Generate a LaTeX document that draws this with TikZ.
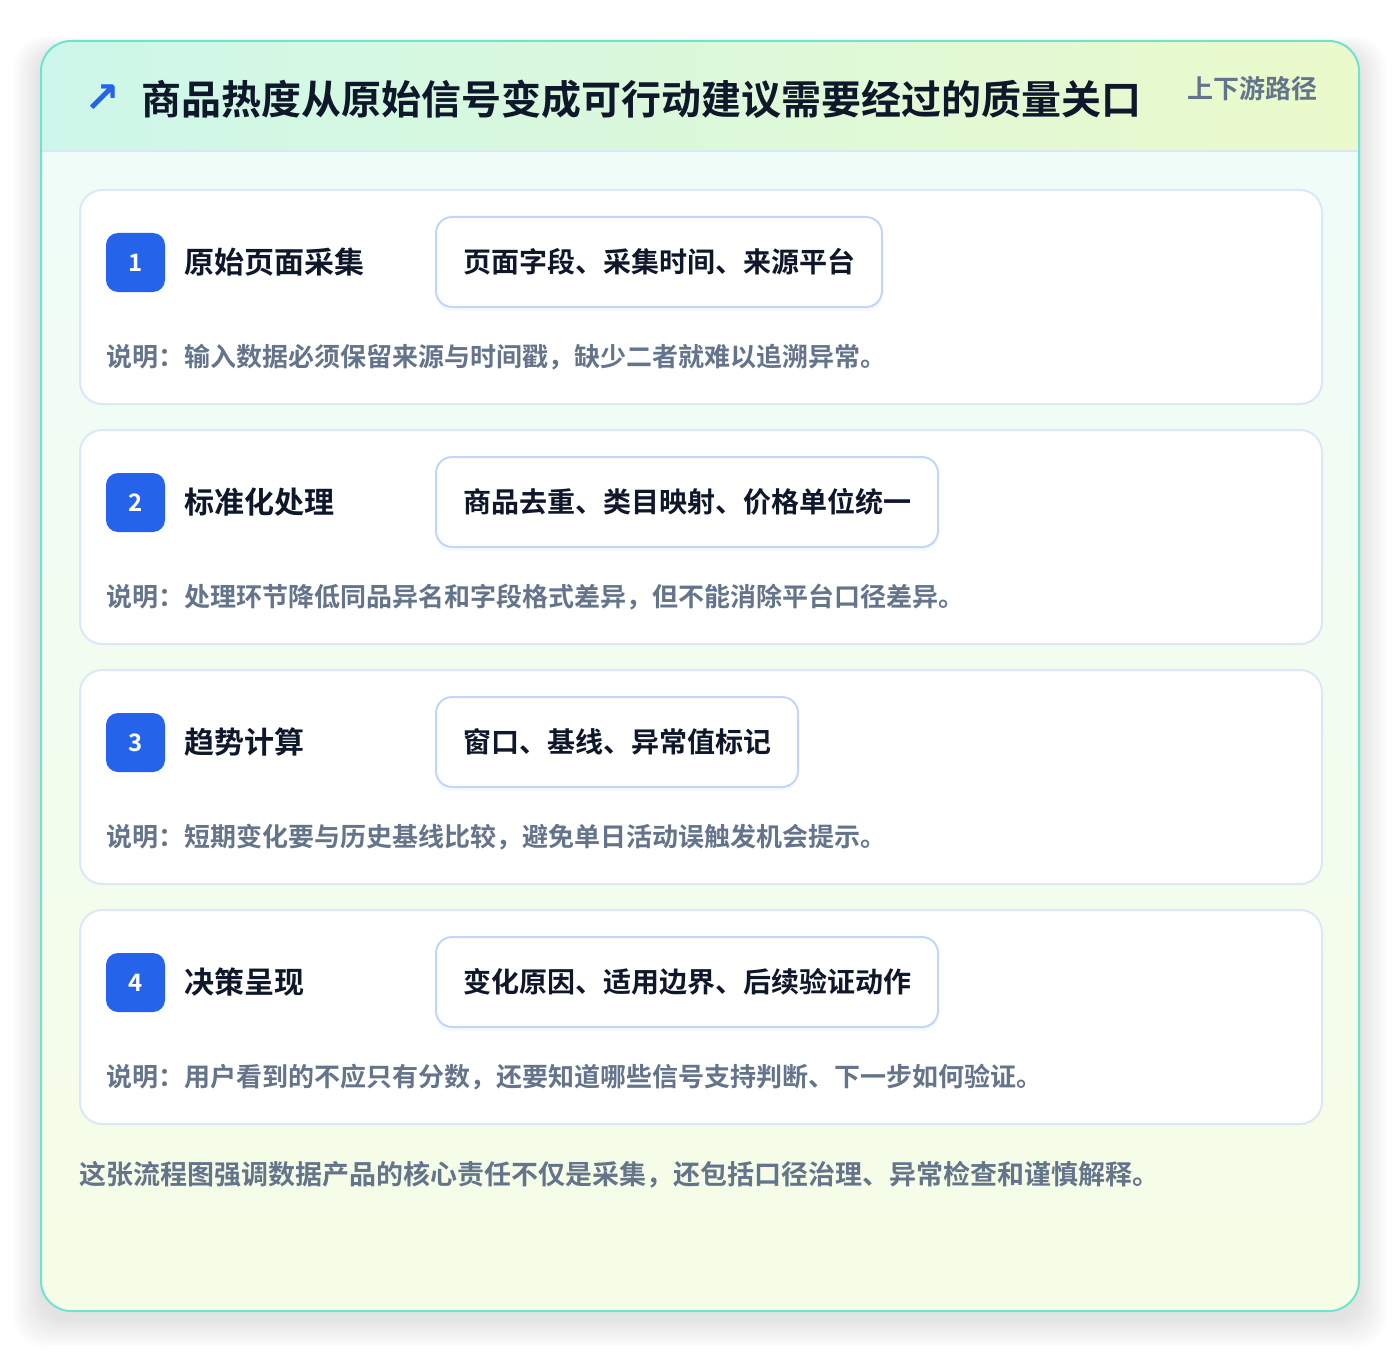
\documentclass[tikz,border=0pt]{standalone}
\usepackage{fontspec}
\setmainfont{Noto Sans CJK SC}[BoldFont={Noto Sans CJK SC Bold}]
\newfontfamily\symbolfont{DejaVu Sans}
\usetikzlibrary{positioning,shadows}

\definecolor{TitleInk}{HTML}{0F172A}
\definecolor{NoteInk}{HTML}{64748B}
\definecolor{BadgeBlue}{HTML}{2563EB}
\definecolor{FrameTeal}{HTML}{6EE3CF}
\definecolor{HeadLeft}{HTML}{CDF7EA}
\definecolor{HeadRight}{HTML}{EBFACB}
\definecolor{HeadLine}{HTML}{D8E8F4}
\definecolor{BodyTop}{HTML}{EFFCF8}
\definecolor{BodyBottom}{HTML}{F6FDE6}
\definecolor{CardLine}{HTML}{DCE8F8}
\definecolor{PillLine}{HTML}{BFD8F8}

\begin{document}
\begin{tikzpicture}[x=0.75pt,y=-0.75pt]
\tikzstyle{frame} = [rounded corners=22.5pt, draw=FrameTeal, line width=1.5pt]
\tikzstyle{card} = [rounded corners=16.5pt, draw=CardLine, line width=1.5pt, fill=white, inner sep=0pt, minimum width=931.5pt, minimum height=160.5pt]
\tikzstyle{badge} = [rounded corners=9pt, fill=BadgeBlue, text=white, inner sep=0pt, minimum size=44.25pt, font=\bfseries\fontsize{18}{18}\selectfont]
\tikzstyle{steptitle} = [inner sep=0pt, text=TitleInk, font=\bfseries\fontsize{22.5}{22.5}\selectfont]
\tikzstyle{pill} = [rounded corners=12pt, draw=PillLine, line width=1.5pt, fill=white, inner xsep=20.25pt, inner ysep=0pt, minimum height=67.5pt, text=TitleInk, font=\bfseries\fontsize{21}{21}\selectfont, drop shadow={opacity=0.05, shadow xshift=0pt, shadow yshift=-3pt}]
\tikzstyle{note} = [inner sep=0pt, text=NoteInk, font=\bfseries\fontsize{19.5}{19.5}\selectfont]

\useasboundingbox (0,0) rectangle (1400,1352);

% soft shadow under the panel
\foreach \k in {1,...,14}
  \fill[black, opacity=0.008, rounded corners=22.5pt] (41-2*\k,41-\k+10) rectangle (1359+2*\k,1311+2*\k+8);

% panel: header band and body
\begin{scope}
\clip[rounded corners=22.5pt] (41,41) rectangle (1359,1311);
\shade[top color=BodyTop, bottom color=BodyBottom] (41,151) rectangle (1359,1311);
\shade[left color=HeadLeft, right color=HeadRight] (41,41) rectangle (1359,151);
\draw[HeadLine, line width=1.5pt] (41,151) -- (1359,151);
\end{scope}
\draw[frame] (41,41) rectangle (1359,1311);

\node (icon) at (102,99) [inner sep=0pt, text=BadgeBlue, font=\symbolfont\bfseries\fontsize{32}{32}\selectfont] {↗};
\node (title) [anchor=west, inner sep=0pt, text=TitleInk, font=\bfseries\fontsize{30}{30}\selectfont] at (141,99) {商品热度从原始信号变成可行动建议需要经过的质量关口};
\node (route) [anchor=east, inner sep=0pt, text=NoteInk, font=\bfseries\fontsize{19.5}{19.5}\selectfont] at (1318,89) {上下游路径};

% the four gates
\foreach \n/\name/\fields/\why in {
  1/原始页面采集/页面字段、采集时间、来源平台/说明：输入数据必须保留来源与时间戳，缺少二者就难以追溯异常。,
  2/标准化处理/商品去重、类目映射、价格单位统一/说明：处理环节降低同品异名和字段格式差异，但不能消除平台口径差异。,
  3/趋势计算/窗口、基线、异常值标记/说明：短期变化要与历史基线比较，避免单日活动误触发机会提示。,
  4/决策呈现/变化原因、适用边界、后续验证动作/说明：用户看到的不应只有分数，还要知道哪些信号支持判断、下一步如何验证。}
{
  \pgfmathsetmacro\y{189+(\n-1)*240}
  \node (card\n) [card, anchor=north west] at (79,\y) {};
  \node (badge\n) [badge] at (135.5,\y+73.5) {\n};
  \node (step\n) [steptitle, right=14pt of badge\n] {\name};
  \node (pill\n) [pill, anchor=west] at (435,\y+73) {\fields};
  \node (note\n) [note, anchor=west] at (106,\y+168) {\why};
}

\node (summary) [note, anchor=west, font=\bfseries\fontsize{20.25}{20.25}\selectfont] at (79,1175) {这张流程图强调数据产品的核心责任不仅是采集，还包括口径治理、异常检查和谨慎解释。};

\end{tikzpicture}
\end{document}
